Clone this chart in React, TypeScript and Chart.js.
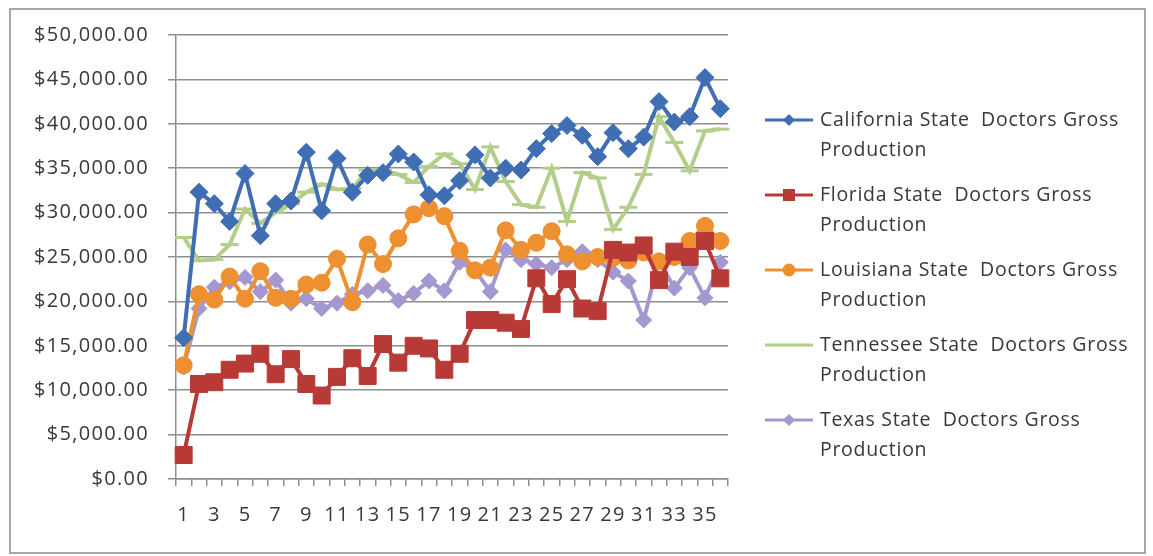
import React, { useEffect, useRef } from "react";
import { Chart, registerables } from "chart.js";

Chart.register(...registerables);

const categories = Array.from({ length: 36 }, (_, i) => String(i + 1));

const seriesLabels = [
  ["California State  Doctors Gross", "Production"],
  ["Florida State  Doctors Gross", "Production"],
  ["Louisiana State  Doctors Gross", "Production"],
  ["Tennessee State  Doctors Gross", "Production"],
  ["Texas State  Doctors Gross", "Production"],
];

const california = [15900, 32300, 31000, 29000, 34400, 27400, 31000, 31300, 36800, 30200, 36100, 32300, 34200, 34500, 36600, 35700, 32000, 31900, 33600, 36500, 33900, 35000, 34800, 37200, 38900, 39800, 38700, 36300, 39000, 37200, 38500, 42500, 40200, 40800, 45200, 41700];
const florida = [2700, 10700, 10900, 12300, 13000, 14100, 11800, 13500, 10700, 9400, 11500, 13600, 11600, 15200, 13100, 15000, 14700, 12300, 14100, 17900, 17900, 17600, 16900, 22600, 19700, 22500, 19200, 18900, 25800, 25500, 26300, 22400, 25600, 25000, 26800, 22600];
const louisiana = [12800, 20800, 20200, 22800, 20300, 23400, 20400, 20300, 21900, 22100, 24800, 19900, 26400, 24200, 27100, 29800, 30500, 29600, 25700, 23500, 23800, 28000, 25800, 26600, 27900, 25300, 24500, 25000, 24900, 24600, 25500, 24500, 25000, 26800, 28500, 26800];
const tennessee = [27200, 24600, 24700, 26400, 30400, 28800, 30000, 31000, 32300, 33200, 32600, 32700, 34800, 34800, 34300, 33400, 35200, 36600, 35500, 32600, 37400, 33500, 30900, 30600, 35000, 29000, 34500, 33900, 28100, 30600, 34300, 40800, 37900, 34700, 39200, 39400];
const texas = [12600, 19200, 21600, 22200, 22700, 21100, 22400, 19800, 20300, 19200, 19800, 20800, 21200, 21800, 20100, 20900, 22300, 21200, 24400, 23500, 21100, 25800, 24700, 24200, 23800, 24700, 25600, 24700, 23300, 22300, 17900, 24600, 21500, 23800, 20400, 24400];

const seriesValues = [california, florida, louisiana, tennessee, texas];
const seriesColors = ["#3F6EB5", "#B83A36", "#EE8F30", "#B3CE8A", "#A597CF"];
const pointStyles = ["rectRot", "rect", "circle", "line", "rectRot"];
const pointRadii = [9, 12, 8.5, 9, 8];
const legendRadii = [6, 8.5, 6.5, 0, 6];

const FONT = "'Open Sans', Lato, sans-serif";
const TEXT_COLOR = "#383838";
const GRID_COLOR = "#8e8e8e";

function drawMarker(ctx: CanvasRenderingContext2D, style: string, x: number, y: number, r: number) {
  ctx.beginPath();
  if (style === "rectRot") {
    ctx.moveTo(x - r, y);
    ctx.lineTo(x, y - r);
    ctx.lineTo(x + r, y);
    ctx.lineTo(x, y + r);
    ctx.closePath();
    ctx.fill();
  } else if (style === "rect") {
    const s = r * Math.SQRT1_2;
    ctx.rect(x - s, y - s, 2 * s, 2 * s);
    ctx.fill();
  } else if (style === "circle") {
    ctx.arc(x, y, r, 0, Math.PI * 2);
    ctx.fill();
  }
}

const framePlugin = {
  id: "frameAndLegend",
  beforeDraw(chart: any) {
    const ctx = chart.ctx as any;
    ctx.letterSpacing = "1.3px";
    ctx.save();
    ctx.fillStyle = "#ffffff";
    ctx.fillRect(0, 0, chart.width, chart.height);
    ctx.strokeStyle = "#a6a6a6";
    ctx.lineWidth = 2;
    ctx.strokeRect(10, 9, 1135, 544);
    ctx.restore();
  },
  afterDraw(chart: any) {
    const ctx = chart.ctx as any;
    ctx.save();
    chart.data.datasets.forEach((ds: any, i: number) => {
      const y0 = 120 + 75 * i;
      ctx.strokeStyle = ds.borderColor;
      ctx.fillStyle = ds.borderColor;
      ctx.lineWidth = 3;
      ctx.beginPath();
      ctx.moveTo(765, y0);
      ctx.lineTo(813, y0);
      ctx.stroke();
      drawMarker(ctx, pointStyles[i], 789, y0, legendRadii[i]);
      ctx.fillStyle = TEXT_COLOR;
      ctx.font = `19.5px ${FONT}`;
      ctx.letterSpacing = "0.7px";
      ctx.textBaseline = "middle";
      ctx.textAlign = "left";
      seriesLabels[i].forEach((line, j) => {
        ctx.fillText(line, 820, y0 + j * 30);
      });
    });
    ctx.restore();
    ctx.letterSpacing = "0px";
  },
};

export default function App() {
  const canvasRef = useRef<HTMLCanvasElement | null>(null);

  useEffect(() => {
    document.body.style.margin = "0";
    const canvas = canvasRef.current;
    if (!canvas) return;
    const chart = new Chart(canvas, {
      type: "line",
      data: {
        labels: categories,
        datasets: seriesValues.map((vals, i) => ({
          label: seriesLabels[i].join(" "),
          data: vals,
          borderColor: seriesColors[i],
          backgroundColor: seriesColors[i],
          borderWidth: 4,
          pointStyle: pointStyles[i] as any,
          pointRadius: pointRadii[i],
          pointBorderWidth: pointStyles[i] === "line" ? 3 : 1,
          pointBackgroundColor: seriesColors[i],
          pointBorderColor: seriesColors[i],
          tension: 0,
          fill: false,
        })),
      },
      options: {
        responsive: false,
        animation: false,
        devicePixelRatio: 1,
        layout: { padding: { left: 0, right: 425, top: 35, bottom: 0 } },
        plugins: {
          legend: { display: false },
          tooltip: { enabled: false },
          title: { display: false },
        },
        scales: {
          x: {
            type: "category",
            offset: true,
            afterFit: (s: any) => {
              s.height = 77;
            },
            grid: {
              offset: true,
              drawOnChartArea: false,
              drawTicks: true,
              tickLength: 7,
              color: GRID_COLOR,
              lineWidth: 1.5,
            },
            border: { color: GRID_COLOR, width: 1.5 },
            ticks: {
              autoSkip: false,
              maxRotation: 0,
              minRotation: 0,
              padding: 17,
              color: TEXT_COLOR,
              font: { family: FONT, size: 20 },
              callback: (_v: any, i: number) => (i % 2 === 0 ? categories[i] : ""),
            },
          },
          y: {
            min: 0,
            max: 50000,
            afterFit: (s: any) => {
              s.width = 176;
            },
            grid: {
              color: GRID_COLOR,
              lineWidth: 1.5,
              tickLength: 8,
            },
            border: { color: GRID_COLOR, width: 1.5 },
            ticks: {
              stepSize: 5000,
              padding: 19,
              color: TEXT_COLOR,
              font: { family: FONT, size: 20 },
              callback: (v: any) =>
                "$" + Number(v).toLocaleString("en-US", { minimumFractionDigits: 2, maximumFractionDigits: 2 }),
            },
          },
        },
      },
      plugins: [framePlugin],
    });
    return () => chart.destroy();
  }, []);

  return (
    <div style={{ width: 1153, height: 556 }}>
      <canvas ref={canvasRef} width={1153} height={556} style={{ display: "block" }} />
    </div>
  );
}
